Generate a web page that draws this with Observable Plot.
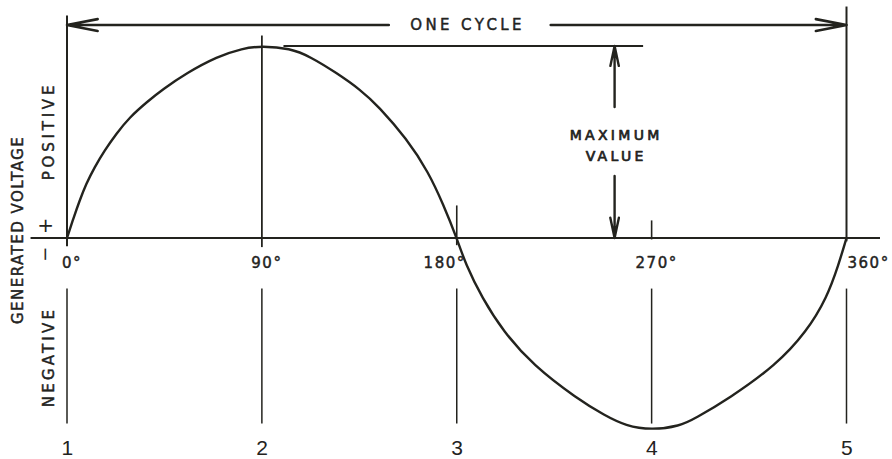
<!DOCTYPE html>
<html>
<head>
<meta charset="utf-8">
<script src="https://cdn.jsdelivr.net/npm/d3@7"></script>
<script src="https://cdn.jsdelivr.net/npm/@observablehq/plot@0.6"></script>
<style>
  html, body { margin: 0; padding: 0; background: #ffffff; }
  #chart svg { display: block; }
</style>
</head>
<body>
<div id="chart"></div>
<script>
// ---- values (angle in degrees, voltage as fraction of maximum) ----
const angles = [0, 3.1, 5.8, 8.8, 12.7, 17.3, 22.7, 28.8, 37.3, 44.1, 55.2, 69.4, 81, 90,
                103, 112.3, 124.6, 135.4, 143.8, 157, 166.9, 173.9, 180,
                184.1, 191.7, 201.5, 215.2, 235.6, 248.5, 258, 270,
                283, 290, 305.6, 327.5, 341.6, 350.9, 356.4, 360];
const voltage = [0, 0.107, 0.194, 0.281, 0.368, 0.455, 0.542, 0.628, 0.712, 0.773, 0.859, 0.945, 0.988, 1,
                 0.988, 0.945, 0.859, 0.773, 0.687, 0.515, 0.344, 0.172, 0,
                 -0.137, -0.312, -0.487, -0.662, -0.837, -0.925, -0.978, -1,
                 -0.98, -0.94, -0.837, -0.662, -0.487, -0.312, -0.137, 0];
const degreeTicks = [0, 90, 180, 270, 360];
const degreeLabels = ["0°", "90°", "180°", "270°", "360°"];
const positionLabels = ["1", "2", "3", "4", "5"];
const maxValue = 1;
const cycleTitle = "ONE CYCLE";
const maxTitle = "MAXIMUM\nVALUE";
const axisTitle = "GENERATED VOLTAGE";
const positiveTitle = "POSITIVE";
const negativeTitle = "NEGATIVE";

const ink = "#23231e";
const font = "DejaVu Sans";
const curvePoints = angles.map((a, i) => ({angle: a, v: voltage[i]}));
const lettering = {fill: ink, stroke: ink, strokeWidth: 0.45, fontFamily: font};

const svg = Plot.plot({
  width: 892,
  height: 459,
  margin: 0,
  x: {domain: [0, 360], range: [66.5, 846], axis: null},
  y: {domain: [-1, 1], range: [429.5, 45.5], axis: null},
  style: {background: "#ffffff", fontFamily: font, color: ink},
  marks: [
    // horizontal zero axis
    Plot.ruleY([0], {x1: -16.6, x2: 375.7, stroke: ink, strokeWidth: 2.2}),
    // cycle boundaries and 90° guide
    Plot.ruleX([degreeTicks[0]], {y1: -0.045, y2: 1.156, stroke: ink, strokeWidth: 2}),
    Plot.ruleX([degreeTicks[4]], {y1: -0.02, y2: 1.203, stroke: ink, strokeWidth: 2}),
    Plot.ruleX([degreeTicks[1]], {y1: -0.05, y2: 1.052, stroke: ink, strokeWidth: 1.8}),
    Plot.ruleX([degreeTicks[2]], {y1: -0.04, y2: 0.167, stroke: ink, strokeWidth: 1.6}),
    Plot.ruleX([degreeTicks[3]], {y1: -0.01, y2: 0.089, stroke: ink, strokeWidth: 1.6}),
    // lower position guides
    Plot.ruleX(degreeTicks, {y1: -0.266, y2: -0.969, stroke: ink, strokeWidth: 1.5}),
    // maximum value reference line
    Plot.ruleY([maxValue], {x1: 100.2, x2: 266.3, stroke: ink, strokeWidth: 1.8}),
    // "one cycle" arrows
    Plot.arrow([{a: 148.6, b: degreeTicks[0]}, {a: 223.4, b: degreeTicks[4]}], {
      x1: "a", x2: "b", y1: 1.109, y2: 1.109,
      stroke: ink, strokeWidth: 2.6, headLength: 18, headAngle: 22
    }),
    // "maximum value" arrows
    Plot.arrow([{a: 0.682, b: maxValue}, {a: 0.323, b: 0}], {
      x1: 252.9, x2: 252.9, y1: "a", y2: "b",
      stroke: ink, strokeWidth: 2.4, headLength: 18, headAngle: 24
    }),
    // the voltage wave
    Plot.line(curvePoints, {x: "angle", y: "v", curve: "basis", stroke: ink, strokeWidth: 2.4}),
    // texts
    Plot.text([cycleTitle], {x: 185, y: 1.109, text: d => d, fontSize: 15, ...lettering}),
    Plot.text([maxTitle], {x: 253.6, y: 0.492, text: d => d, fontSize: 14, lineHeight: 1.5, ...lettering, strokeWidth: 0.7}),
    Plot.text([axisTitle], {x: -22.6, y: 0.042, text: d => d, rotate: -90, fontSize: 15, ...lettering}),
    Plot.text([positiveTitle], {x: -8.3, y: 0.557, text: d => d, rotate: -90, fontSize: 15, ...lettering}),
    Plot.text([negativeTitle], {x: -8.3, y: -0.62, text: d => d, rotate: -90, fontSize: 15, ...lettering}),
    Plot.text(["+"], {x: -9.5, y: 0.0625, text: d => d, fontSize: 20, fill: ink, fontFamily: font}),
    Plot.text(["−"], {x: -9.9, y: -0.08, text: d => d, rotate: -90, fontSize: 18, fill: ink, fontFamily: font}),
    // degree labels
    Plot.text([0, 1, 3], {x: i => degreeTicks[i], y: -0.13, text: i => degreeLabels[i], dx: 5, fontSize: 15, ...lettering}),
    Plot.text([2], {x: i => degreeTicks[i], y: -0.13, text: i => degreeLabels[i], textAnchor: "end", dx: 9, fontSize: 15, ...lettering}),
    Plot.text([4], {x: i => degreeTicks[i], y: -0.13, text: i => degreeLabels[i], textAnchor: "start", dx: 1, fontSize: 15, ...lettering}),
    // position numbers
    Plot.text(positionLabels, {x: (d, i) => degreeTicks[i], y: -1.094, text: d => d, dx: 1, fontSize: 21, fill: ink, fontFamily: "Liberation Sans Narrow, Liberation Sans"})
  ]
});

// letter spacing of the hand lettering
const spacing = {"ONE CYCLE": 3.4, "MAXIMUMVALUE": 3.3, "GENERATED VOLTAGE": 1.5, "POSITIVE": 3.8, "NEGATIVE": 3.2};
svg.querySelectorAll("text").forEach(t => {
  const s = spacing[t.textContent];
  t.style.letterSpacing = (s !== undefined ? s : 1.5) + "px";
});

document.getElementById("chart").appendChild(svg);
</script>
</body>
</html>
